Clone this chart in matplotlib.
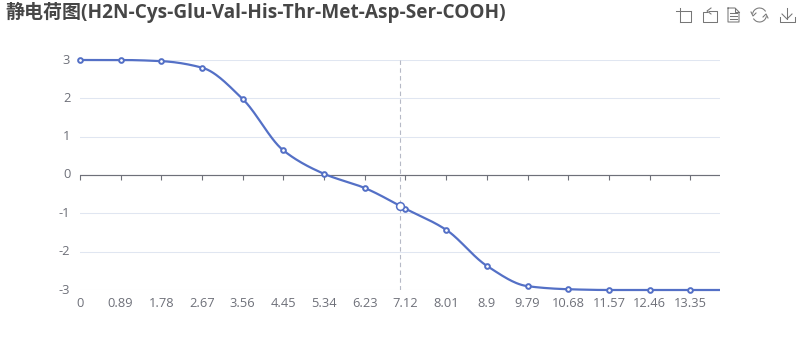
"""Net charge curve of the peptide, pH against charge."""
import numpy as np
import matplotlib
matplotlib.use("Agg")
import matplotlib.pyplot as plt
from matplotlib.lines import Line2D
from matplotlib.patches import Arc
from matplotlib.transforms import ScaledTranslation

plt.rcParams["font.family"] = ["Open Sans", "Noto Sans CJK SC", "DejaVu Sans"]

TITLE = "静电荷图(H2N-Cys-Glu-Val-His-Thr-Met-Asp-Ser-COOH)"
ph = [0, 0.89, 1.78, 2.67, 3.56, 4.45, 5.34, 6.23, 7.12, 8.01, 8.9, 9.79,
      10.68, 11.57, 12.46, 13.35, 14]
charge = [3, 3, 2.97, 2.8, 1.98, 0.64, 0.03, -0.34, -0.88, -1.43, -2.37, -2.9,
          -2.98, -3, -3, -3, -3]
hover_ph = 7.0
hover_charge = -0.82
x_ticks = [0, 0.89, 1.78, 2.67, 3.56, 4.45, 5.34, 6.23, 7.12, 8.01, 8.9, 9.79,
           10.68, 11.57, 12.46, 13.35]
x_tick_labels = ["0", "0.89", "1.78", "2.67", "3.56", "4.45", "5.34", "6.23",
                 "7.12", "8.01", "8.9", "9.79", "10.68", "11.57", "12.46", "13.35"]
y_ticks = [-3, -2, -1, 0, 1, 2, 3]

LINE = "#5470C6"
GRID = "#E0E6F1"
AXIS = "#6E7079"
ICON = "#777777"
W, H = 800, 360


def smooth(x, y, n=30):
    # monotone cubic through the points, close to what the original line does
    x = np.asarray(x, float)
    y = np.asarray(y, float)
    h = np.diff(x)
    d = np.diff(y) / h
    m = np.zeros(len(x))
    for i in range(1, len(x) - 1):
        if d[i - 1] * d[i] > 0:
            m[i] = 2 * d[i - 1] * d[i] / (d[i - 1] + d[i])
    xs, ys = [], []
    for i in range(len(h)):
        t = np.linspace(0, 1, n)
        xs.append(x[i] + t * h[i])
        ys.append((2*t**3 - 3*t**2 + 1) * y[i] + (t**3 - 2*t**2 + t) * h[i] * m[i]
                  + (-2*t**3 + 3*t**2) * y[i + 1] + (t**3 - t**2) * h[i] * m[i + 1])
    return np.concatenate(xs), np.concatenate(ys)


def icon_line(fig, xs, ys):
    # toolbox glyphs, given in pixels from the top left
    fig.add_artist(Line2D([v / W for v in xs], [1 - v / H for v in ys],
                          color=ICON, lw=0.75, transform=fig.transFigure))


def draw_toolbox(fig):
    # zoom
    icon_line(fig, [676, 691], [11, 11])
    icon_line(fig, [680, 680], [8, 22])
    icon_line(fig, [680, 691, 691], [22, 22, 11])
    # zoom back
    icon_line(fig, [707, 703, 703, 717, 717, 709], [12, 12, 22, 22, 11, 11])
    icon_line(fig, [711, 707, 711], [8, 11, 14])
    # data view
    icon_line(fig, [728, 735, 739, 739, 728, 728], [8, 8, 12, 22, 22, 8])
    icon_line(fig, [735, 735, 739], [8, 12, 12])
    for yy in (13, 16, 19):
        icon_line(fig, [730, 737], [yy, yy])
    # restore
    ax_px = fig.add_axes([0, 0, 1, 1], facecolor="none")
    ax_px.set_xlim(0, W)
    ax_px.set_ylim(H, 0)
    ax_px.axis("off")
    ax_px.add_patch(Arc((759.5, 15), 14, 14, theta1=190, theta2=330, color=ICON, lw=0.75))
    ax_px.add_patch(Arc((759.5, 15), 14, 14, theta1=10, theta2=150, color=ICON, lw=0.75))
    icon_line(fig, [751, 753, 756], [12, 16, 13])
    icon_line(fig, [763, 766, 768], [17, 14, 18])
    # save
    icon_line(fig, [787, 787], [8, 19])
    icon_line(fig, [782, 787, 792], [14, 19, 14])
    icon_line(fig, [780, 780, 795, 795], [17, 22, 22, 17])


fig = plt.figure(figsize=(W / 100, H / 100), dpi=100, facecolor="white")
ax = fig.add_axes([80 / W, 1 - 290 / H, 640 / W, 230 / H])
ax.set_xlim(0, 14)
ax.set_ylim(-3, 3)
for s in ax.spines.values():
    s.set_visible(False)

ax.set_yticks(y_ticks)
ax.set_yticklabels([str(v) for v in y_ticks])
ax.set_xticks(x_ticks)
ax.set_xticklabels(x_tick_labels)
ax.tick_params(axis="both", length=0, labelsize=9.3, labelcolor=AXIS)
ax.tick_params(axis="x", pad=5)
ax.tick_params(axis="y", pad=7)
# y labels sit a little above their grid lines in the original
up = ScaledTranslation(0, 1.5 / 100, fig.dpi_scale_trans)
for lab in ax.get_yticklabels():
    lab.set_transform(lab.get_transform() + up)
ax.grid(axis="y", color=GRID, lw=0.75)
ax.set_axisbelow(True)

# category line sits on zero, labels stay at the bottom
zero_axis = ax.secondary_xaxis(0.5)
zero_axis.set_xticks(x_ticks)
zero_axis.set_xticklabels([])
zero_axis.tick_params(axis="x", direction="in", length=3.6, width=0.8, color=AXIS)
for s in zero_axis.spines.values():
    s.set_visible(False)
ax.axhline(0, color=AXIS, lw=0.85, zorder=2)

ax.axvline(hover_ph, color="#B6B9C6", lw=0.8, ls=(0, (4, 3)), zorder=2)

sx, sy = smooth(ph, charge)
ax.plot(sx, sy, color=LINE, lw=1.6, zorder=3, solid_capstyle="butt", clip_on=False)
ax.plot(ph[:-1], charge[:-1], ls="none", marker="o", ms=3.4, mfc="white", mec=LINE,
        mew=1.4, zorder=4, clip_on=False)
ax.plot([hover_ph], [hover_charge], ls="none", marker="o", ms=5.6, mfc="white",
        mec=LINE, mew=1.1, zorder=5, clip_on=False)

fig.text(5 / W, 1 - 12 / H, TITLE, fontsize=13.7, fontweight="bold", color="#464646",
         ha="left", va="center")
draw_toolbox(fig)

fig.savefig("out.png", dpi=100)
plt.close(fig)
